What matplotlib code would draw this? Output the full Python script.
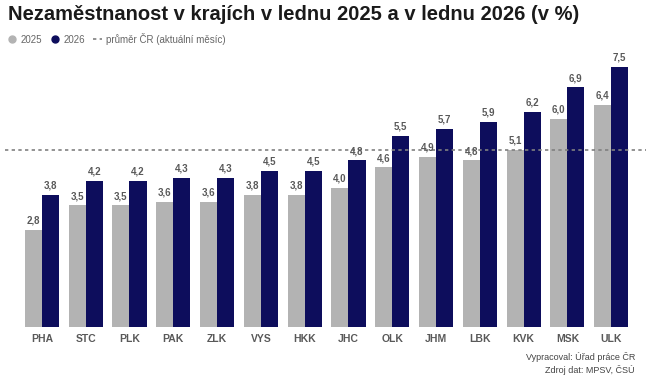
import matplotlib.pyplot as plt
from matplotlib.lines import Line2D
import numpy as np

plt.rcParams['font.family'] = ['Liberation Sans', 'DejaVu Sans']

regions = ['PHA', 'STC', 'PLK', 'PAK', 'ZLK', 'VYS', 'HKK', 'JHC', 'OLK', 'JHM', 'LBK', 'KVK', 'MSK', 'ULK']
v2025 = [2.8, 3.5, 3.5, 3.6, 3.6, 3.8, 3.8, 4.0, 4.6, 4.9, 4.8, 5.1, 6.0, 6.4]
v2026 = [3.8, 4.2, 4.2, 4.3, 4.3, 4.5, 4.5, 4.8, 5.5, 5.7, 5.9, 6.2, 6.9, 7.5]
prumer_cr = 5.1

c25 = '#b3b3b3'
c26 = '#0d0d5c'
txt = '#595959'

fig = plt.figure(figsize=(6.46, 3.78), dpi=100)
ax = fig.add_axes([0.031, 0.135, 0.949, 0.735])

x = np.arange(len(regions))
w = 0.39
b1 = ax.bar(x - w / 2, v2025, w, color=c25)
b2 = ax.bar(x + w / 2, v2026, w, color=c26)
ax.axhline(prumer_cr, xmin=-0.024, xmax=1.03, clip_on=False,
           color='#808080', lw=1.2, ls=(0, (2, 2)), zorder=3)

for bars, vals in ((b1, v2025), (b2, v2026)):
    for b, v in zip(bars, vals):
        ax.text(b.get_x() + b.get_width() / 2, v + 0.12, f'{v:.1f}'.replace('.', ','),
                ha='center', va='bottom', fontsize=7, fontweight='bold', color=txt)

ax.set_xlim(-0.5, len(regions) - 0.5)
ax.set_ylim(0, 8.0)
ax.set_xticks(x)
ax.set_xticklabels(regions, fontsize=7.5, fontweight='bold', color=txt)
ax.tick_params(axis='x', length=0, pad=5)
ax.set_yticks([])
for s in ax.spines.values():
    s.set_visible(False)

fig.text(0.012, 0.962, 'Nezaměstnanost v krajích v lednu 2025 a v lednu 2026 (v %)',
         fontsize=14.5, fontweight='bold', color='#1a1a1a', va='center')

handles = [
    Line2D([], [], marker='o', ls='none', color=c25, markersize=5),
    Line2D([], [], marker='o', ls='none', color=c26, markersize=5),
    Line2D([], [], color='#808080', lw=1.2, ls=(0, (2, 2))),
]
fig.legend(handles, ['2025', '2026', 'průměr ČR (aktuální měsíc)'],
           loc='center left', bbox_to_anchor=(0.0, 0.898), ncol=3, frameon=False,
           fontsize=7, labelcolor='#666666', handlelength=1.0, handletextpad=0.4,
           columnspacing=0.8, borderaxespad=0.3)

fig.text(0.983, 0.055, 'Vypracoval: Úřad práce ČR', ha='right', va='center', fontsize=6.5, color='#444444')
fig.text(0.983, 0.02, 'Zdroj dat: MPSV, ČSÚ', ha='right', va='center', fontsize=6.5, color='#444444')

fig.savefig('out.png', dpi=100)
